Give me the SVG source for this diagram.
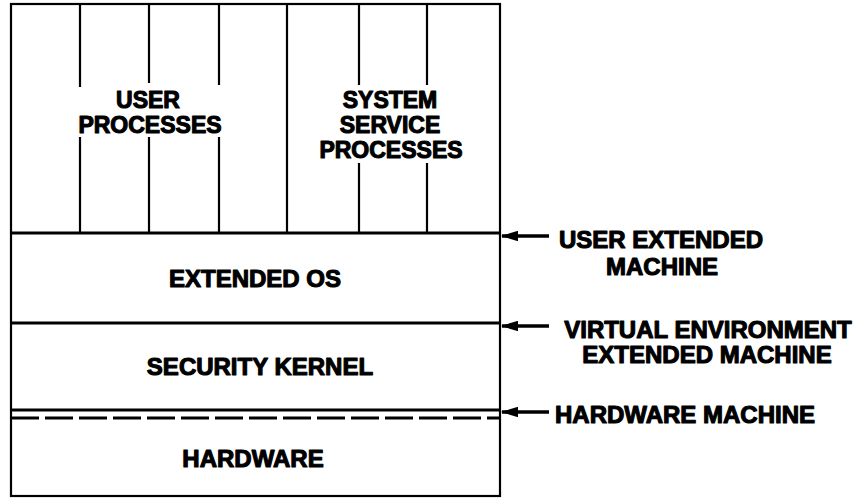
<svg xmlns="http://www.w3.org/2000/svg" width="868" height="499" viewBox="0 0 868 499">
<style>
.ln{stroke:#000;stroke-width:2.2;fill:none}
.hl{stroke:#000;stroke-width:3;fill:none}
.t{font-family:"Liberation Sans",Arial,sans-serif;font-weight:bold;font-size:24px;fill:#000;stroke:#000;stroke-width:1.1;stroke-linejoin:round;text-anchor:middle}
.tl{text-anchor:start}
.arr{stroke:#000;stroke-width:3.5;fill:none;marker-end:url(#ah)}
</style>
<defs>
<marker id="ah" markerWidth="5" markerHeight="3" refX="4.6" refY="1.5" orient="auto" markerUnits="strokeWidth">
<path d="M0,0 L5,1.5 L0,3 Z" fill="#000"/>
</marker>
</defs>
<rect width="868" height="499" fill="#fff"/>
<g id="frame">
<rect class="ln" x="11" y="4" width="489" height="492"/>
</g>
<g id="user-processes">
<line class="ln" x1="80" y1="4" x2="80" y2="87"/>
<line class="ln" x1="80" y1="137" x2="80" y2="233"/>
<line class="ln" x1="149" y1="4" x2="149" y2="83"/>
<line class="ln" x1="149" y1="137" x2="149" y2="233"/>
<line class="ln" x1="219" y1="4" x2="219" y2="85"/>
<line class="ln" x1="219" y1="137" x2="219" y2="233"/>
<line class="ln" x1="287" y1="4" x2="287" y2="233"/>
<text class="t" x="148" y="108" style="font-size:23px">USER</text>
<text class="t" x="150" y="133" style="font-size:23px">PROCESSES</text>
</g>
<g id="system-service-processes">
<line class="ln" x1="359" y1="4" x2="359" y2="85"/>
<line class="ln" x1="359" y1="163" x2="359" y2="233"/>
<line class="ln" x1="427" y1="4" x2="427" y2="85"/>
<line class="ln" x1="427" y1="163" x2="427" y2="233"/>
<text class="t" x="390" y="108" style="font-size:23px">SYSTEM</text>
<text class="t" x="390" y="133" style="font-size:23px">SERVICE</text>
<text class="t" x="391" y="158" style="font-size:23px">PROCESSES</text>
</g>
<g id="extended-os">
<line class="hl" x1="11" y1="233" x2="500" y2="233"/>
<text class="t" x="255" y="287">EXTENDED OS</text>
</g>
<g id="security-kernel">
<line class="hl" x1="11" y1="323" x2="500" y2="323"/>
<text class="t" x="260" y="375">SECURITY KERNEL</text>
</g>
<g id="hardware">
<line class="hl" x1="11" y1="410" x2="500" y2="410"/>
<line class="hl" x1="11" y1="418" x2="500" y2="418" stroke-dasharray="28 6"/>
<text class="t" x="253" y="467">HARDWARE</text>
</g>
<g id="connectors">
<line class="arr" x1="549" y1="236" x2="502" y2="236"/>
<line class="arr" x1="549" y1="326" x2="502" y2="326"/>
<line class="arr" x1="549" y1="412" x2="502" y2="412"/>
</g>
<g id="labels">
<text class="t" x="661" y="248">USER EXTENDED</text>
<text class="t" x="662" y="275">MACHINE</text>
<text class="t" x="708" y="338">VIRTUAL ENVIRONMENT</text>
<text class="t" x="707" y="363">EXTENDED MACHINE</text>
<text class="t tl" x="555" y="423">HARDWARE MACHINE</text>
</g>
</svg>
